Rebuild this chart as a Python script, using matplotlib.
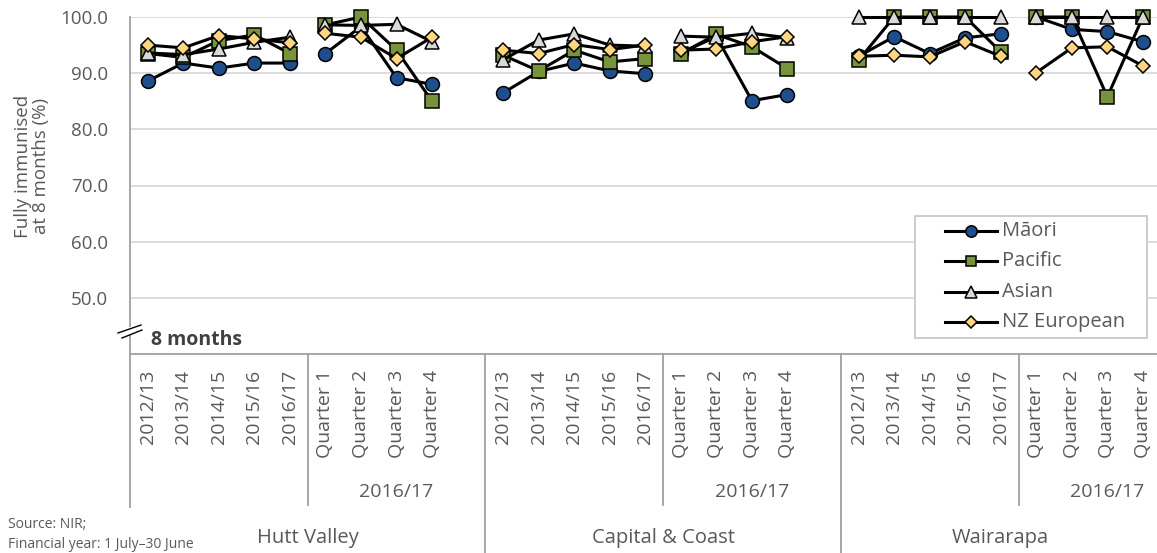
import matplotlib
matplotlib.use("Agg")
import matplotlib.pyplot as plt
from matplotlib.lines import Line2D
from matplotlib.patches import Rectangle
from matplotlib.transforms import blended_transform_factory

plt.rcParams['font.family'] = ['Open Sans', 'DejaVu Sans']

regions = ['Hutt Valley', 'Capital & Coast', 'Wairarapa']
years = ['2012/13', '2013/14', '2014/15', '2015/16', '2016/17']
quarters = ['Quarter 1', 'Quarter 2', 'Quarter 3', 'Quarter 4']
quarter_year = '2016/17'
yticks = [50, 60, 70, 80, 90, 100]

# per region: 5 financial years then 4 quarters (Hutt, Capital & Coast, Wairarapa)
maori = [88.6, 91.8, 90.9, 91.8, 91.8, 93.5, 98.3, 89.2, 88.0,
         86.5, 90.3, 91.8, 90.4, 89.9, 93.6, 96.5, 85.1, 86.2,
         93.0, 96.5, 93.5, 96.3, 97.0, 100.0, 97.8, 97.4, 95.6]
pacific = [93.5, 92.8, 95.8, 96.8, 93.5, 98.6, 100.0, 94.1, 85.0,
           93.2, 90.4, 94.1, 92.0, 92.6, 93.5, 96.9, 94.7, 90.8,
           92.3, 100.0, 100.0, 100.0, 93.8, 100.0, 100.0, 85.8, 100.0]
asian = [93.6, 93.3, 94.3, 95.5, 96.4, 98.6, 98.5, 98.7, 95.6,
         92.4, 95.9, 97.0, 95.0, 94.8, 96.6, 96.4, 97.1, 96.3,
         100.0, 100.0, 100.0, 100.0, 100.0, 100.0, 100.0, 100.0, 100.0]
nz_european = [95.0, 94.5, 96.7, 96.1, 95.4, 97.1, 96.4, 92.6, 96.4,
               94.1, 93.5, 95.1, 94.2, 95.0, 94.1, 94.3, 95.6, 96.5,
               93.0, 93.2, 92.9, 95.6, 93.0, 90.1, 94.5, 94.7, 91.3]

series = [
    ('Māori', maori, 'o', '#1F4E8C', 10),
    ('Pacific', pacific, 's', '#77933C', 9.5),
    ('Asian', asian, '^', '#D9D9D9', 10),
    ('NZ European', nz_european, 'D', '#FFD580', 7.5),
]

W, H = 1157, 553
grey = '#595959'
axis_grey = '#A0A0A0'
slot = 35.54

fig = plt.figure(figsize=(W / 100, H / 100), dpi=100)
ax = fig.add_axes([130 / W, 1 - 354 / H, 29 * slot / W, 337 / H])
ax.set_xlim(-0.5, 28.5)
ax.set_ylim(40, 100)
for s in ax.spines.values():
    s.set_visible(False)
ax.set_xticks([])
ax.set_yticks(yticks)
ax.set_yticklabels([f'{v:.1f}' for v in yticks])
ax.tick_params(axis='y', length=0, pad=16, labelsize=13.5, labelcolor=grey)
for v in yticks:
    ax.axhline(v, color='#D9D9D9', lw=1.3, zorder=0)

# each region: annual points then quarterly points, plotted as separate runs
for z, (name, vals, mk, col, ms) in enumerate(series):
    for r in range(3):
        base = r * 10
        chunk = vals[r * 9:(r + 1) * 9]
        for lo, hi in ((0, 5), (5, 9)):
            xs = list(range(base + lo, base + hi))
            ax.plot(xs, chunk[lo:hi], color='black', lw=2.2, marker=mk,
                    markersize=ms, markerfacecolor=col,
                    markeredgecolor='black', markeredgewidth=1.1,
                    clip_on=False, zorder=3 + z)

fy = lambda py: 1 - py / H
fx = lambda px: px / W

# legend box, laid out by hand
fig.add_artist(Rectangle((fx(915), fy(338)), fx(1147) - fx(915),
                         fy(216) - fy(338), transform=fig.transFigure,
                         facecolor='white', edgecolor='#C8C8C8', lw=1.3,
                         zorder=10))
for k, (name, vals, mk, col, ms) in enumerate(series):
    yy = fy(231 + k * 30.3)
    fig.add_artist(Line2D([fx(945), fx(997)], [yy, yy],
                          transform=fig.transFigure, color='black', lw=2.2,
                          zorder=11))
    fig.add_artist(Line2D([fx(971)], [yy], transform=fig.transFigure,
                          marker=mk, markersize=ms * 0.82,
                          markerfacecolor=col, markeredgecolor='black',
                          markeredgewidth=1.1, zorder=12))
    fig.text(fx(1002), yy, name, fontsize=14.5, color=grey, va='center',
             ha='left', zorder=12)

# category table under the plot
tr = blended_transform_factory(ax.transData, fig.transFigure)

def vline(x, y0, y1):
    fig.add_artist(Line2D([x, x], [fy(y0), fy(y1)], transform=tr,
                          color=axis_grey, lw=1.3, clip_on=False))

fig.add_artist(Line2D([-0.5, 28.6], [fy(354), fy(354)], transform=tr,
                      color=axis_grey, lw=1.3, clip_on=False))
vline(-0.5, 17, 326)
vline(-0.5, 336, 507)
for r in range(3):
    vline(r * 10 + 4.5, 354, 505)
for b in (9.5, 19.5):
    vline(b, 354, 553)

for r, reg in enumerate(regions):
    base = r * 10
    for i, lab in enumerate(years + quarters):
        fig.text(base + i, fy(370), lab, transform=tr, rotation=90,
                 ha='center', va='top', fontsize=14, color=grey)
    fig.text(base + 7, fy(492), quarter_year, transform=tr,
             ha='center', va='center', fontsize=14, color=grey)
    centre = base + 4.5 if r < 2 else 24
    fig.text(centre, fy(538), reg, transform=tr, ha='center',
             va='center', fontsize=14.5, color=grey)

# axis break marks
for (x0, y0, x1, y1) in ((118, 333, 141, 325), (122, 338, 142, 330)):
    fig.add_artist(Line2D([fx(x0), fx(x1)], [fy(y0), fy(y1)],
                          transform=fig.transFigure, color='black', lw=1))

fig.text(fx(151), fy(340), '8 months', fontsize=14, fontweight='bold',
         color='#404040', va='center', ha='left')
fig.text(fx(32), fy(166), 'Fully immunised\nat 8 months (%)', rotation=90,
         ha='center', va='center', fontsize=13.5, color=grey, linespacing=1.05)
fig.text(fx(8), fy(524), 'Source: NIR;', fontsize=10, color=grey, va='center')
fig.text(fx(8), fy(545), 'Financial year: 1 July\u201330 June', fontsize=10,
         color=grey, va='center')

fig.savefig('out.png', dpi=100)
